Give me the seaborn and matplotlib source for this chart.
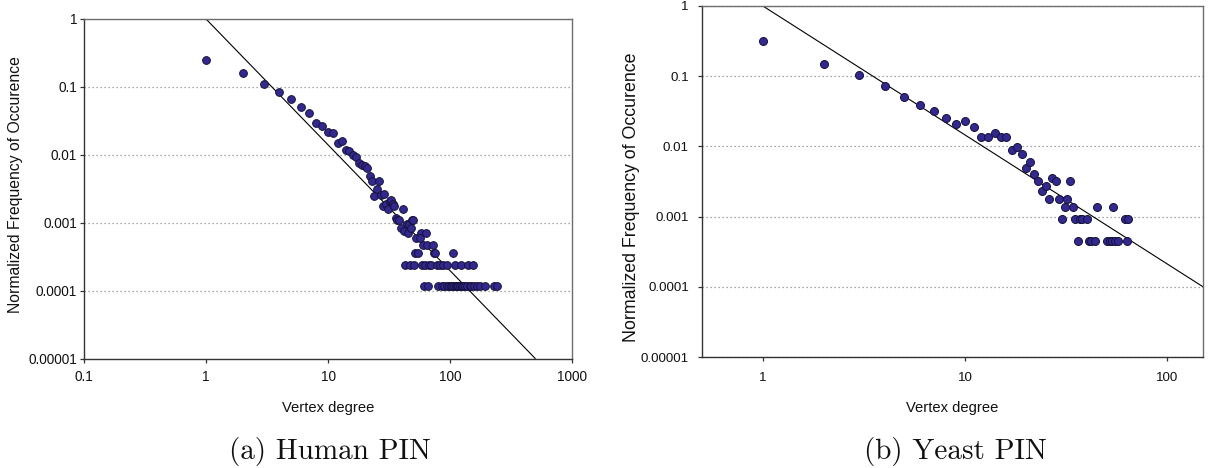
import numpy as np
import pandas as pd
import matplotlib
matplotlib.use("Agg")
import matplotlib.pyplot as plt
import seaborn as sns

# ---------------- data ----------------
human_degree = [1, 2, 3, 4, 5, 6, 7, 8, 9, 10, 11, 12, 13, 14, 15, 16, 17, 18, 19, 20,
                21, 22, 23, 24, 25, 26, 27, 28, 29, 30, 31, 32, 33, 34, 35, 36, 37, 38,
                40, 41, 42, 44, 45, 46, 48, 49, 50,
                58, 63, 53, 57, 60, 65, 72, 52, 55, 74, 76, 105,
                43, 47, 51, 59, 62, 67, 70, 78, 83, 88, 94, 110, 123, 141, 155,
                61, 66, 79, 86, 90, 95, 98, 101, 104, 107, 111, 114, 117, 120, 125,
                129, 133, 137, 145, 150, 158, 166, 176, 194, 231, 241]
human_freq = [0.25, 0.16, 0.11, 0.085, 0.066, 0.050, 0.041, 0.030, 0.027, 0.022, 0.021,
              0.015, 0.016, 0.012, 0.0116, 0.010, 0.0094, 0.0076, 0.0071, 0.0068,
              0.0064, 0.0049, 0.0041, 0.0025, 0.0032, 0.0042, 0.0026, 0.0018, 0.0027,
              0.0019, 0.0016, 0.0021, 0.0022, 0.0019, 0.0018, 0.0012, 0.0011, 0.0011,
              0.00084, 0.0016, 0.00075, 0.00096, 0.00072, 0.00096, 0.00084, 0.0011, 0.0011,
              0.000714, 0.000714, 0.000595, 0.000595, 0.000476, 0.000476, 0.000476,
              0.000357, 0.000357, 0.000357, 0.000357, 0.000357,
              0.000238, 0.000238, 0.000238, 0.000238, 0.000238, 0.000238, 0.000238,
              0.000238, 0.000238, 0.000238, 0.000238, 0.000238, 0.000238, 0.000238, 0.000238,
              0.000119, 0.000119, 0.000119, 0.000119, 0.000119, 0.000119, 0.000119,
              0.000119, 0.000119, 0.000119, 0.000119, 0.000119, 0.000119, 0.000119,
              0.000119, 0.000119, 0.000119, 0.000119, 0.000119, 0.000119, 0.000119,
              0.000119, 0.000119, 0.000119, 0.000119, 0.000119]

yeast_degree = [1, 2, 3, 4, 5, 6, 7, 8, 9, 10, 11, 12, 13, 14, 15, 16, 17, 18, 19, 20,
                21, 22, 23, 24, 25, 26, 27, 28, 29, 30, 31, 32, 33, 34, 35, 36, 37, 38,
                40, 41, 42, 44, 45, 50, 52, 53, 54, 55, 57, 62, 63, 64]
yeast_freq = [0.314, 0.148, 0.105, 0.073, 0.050, 0.039, 0.032, 0.025, 0.021, 0.023,
              0.019, 0.0135, 0.0135, 0.0154, 0.0135, 0.0135, 0.009, 0.0099, 0.0077,
              0.005, 0.0059, 0.004, 0.0032, 0.0023, 0.0027, 0.0018, 0.0036, 0.0032,
              0.0018, 0.00091, 0.00136, 0.0018, 0.0032, 0.00136, 0.00091, 0.00045,
              0.00091, 0.00091, 0.00091, 0.00045, 0.00045, 0.00045, 0.00136, 0.00045,
              0.00045, 0.00045, 0.00136, 0.00045, 0.00045, 0.00091, 0.00045, 0.00091]

# power-law fit lines: y = x^(-exponent), drawn across the x-range
human_fit_exponent = 1.85
human_fit_range = [1, 500]
yeast_fit_exponent = 1.838
yeast_fit_range = [1, 150]

y_ticks = [1, 0.1, 0.01, 0.001, 0.0001, 0.00001]
y_tick_labels = ["1", "0.1", "0.01", "0.001", "0.0001", "0.00001"]
human_x_ticks = [0.1, 1, 10, 100, 1000]
human_x_tick_labels = ["0.1", "1", "10", "100", "1000"]
yeast_x_ticks = [1, 10, 100]
yeast_x_tick_labels = ["1", "10", "100"]

x_label = "Vertex degree"
y_label = "Normalized Frequency of Occurence"
captions = ["(a) Human PIN", "(b) Yeast PIN"]

# ---------------- style ----------------
sns.set_style("ticks")
plt.rcParams["font.family"] = ["Liberation Sans", "DejaVu Sans"]

W, H = 1209, 468
fig = plt.figure(figsize=(W / 100, H / 100), dpi=100)

def px_axes(x0, y0, x1, y1):
    return fig.add_axes([x0 / W, 1 - y1 / H, (x1 - x0) / W, (y1 - y0) / H])

ax1 = px_axes(84, 19, 572, 359)
ax2 = px_axes(702, 6, 1203, 357)

marker_face = "#33288E"
marker_edge = "#15123A"

def draw(ax, deg, freq, expo, frange, xlim, xticks, xticklabels,
         tick_fs, ylab_fs, xlab_fs, ypad, xpad, ylab_xy, xlab_xy, msize):
    ax.set_xscale("log")
    ax.set_yscale("log")
    df = pd.DataFrame({"degree": deg, "freq": freq})
    fx = np.array(frange, dtype=float)
    fit = pd.DataFrame({"degree": fx, "freq": fx ** (-expo)})
    sns.lineplot(data=fit, x="degree", y="freq", ax=ax, color="black",
                 linewidth=0.8, zorder=2)
    sns.scatterplot(data=df, x="degree", y="freq", ax=ax, color=marker_face,
                    edgecolor=marker_edge, linewidth=0.7, s=msize, zorder=3)
    ax.set_xlim(*xlim)
    ax.set_ylim(1e-5, 1)
    ax.minorticks_off()
    ax.yaxis.set_major_locator(matplotlib.ticker.FixedLocator(y_ticks))
    ax.yaxis.set_major_formatter(matplotlib.ticker.FixedFormatter(y_tick_labels))
    ax.xaxis.set_major_locator(matplotlib.ticker.FixedLocator(xticks))
    ax.xaxis.set_major_formatter(matplotlib.ticker.FixedFormatter(xticklabels))
    ax.yaxis.grid(True, linestyle=(0, (1, 2.2)), color="#8a8a8a", linewidth=0.9)
    ax.xaxis.grid(False)
    ax.set_axisbelow(True)
    for s in ["left", "bottom"]:
        ax.spines[s].set_color("#333333")
        ax.spines[s].set_linewidth(1.0)
    for s in ["top", "right"]:
        ax.spines[s].set_visible(True)
        ax.spines[s].set_color("#6e6e6e")
        ax.spines[s].set_linewidth(1.0)
    ax.tick_params(axis="y", which="major", direction="out", length=3,
                   width=0.9, color="#333333", labelsize=tick_fs, pad=ypad,
                   labelcolor="#111111")
    ax.tick_params(axis="x", which="major", direction="out", length=3,
                   width=0.9, color="#333333", labelsize=tick_fs, pad=xpad,
                   labelcolor="#111111")
    ax.set_xlabel(x_label, fontsize=xlab_fs, color="#111111", va="center")
    ax.set_ylabel(y_label, fontsize=ylab_fs, color="#111111", va="center")
    ax.xaxis.set_label_coords(*xlab_xy)
    ax.yaxis.set_label_coords(*ylab_xy)

draw(ax1, human_degree, human_freq, human_fit_exponent, human_fit_range,
     (0.1, 1000), human_x_ticks, human_x_tick_labels,
     tick_fs=9.8, ylab_fs=11.3, xlab_fs=10.6, ypad=2.0, xpad=5.0,
     ylab_xy=(-0.141, 0.512), xlab_xy=(0.5, -0.144), msize=31)
draw(ax2, yeast_degree, yeast_freq, yeast_fit_exponent, yeast_fit_range,
     (0.5, 150), yeast_x_ticks, yeast_x_tick_labels,
     tick_fs=9.6, ylab_fs=12.8, xlab_fs=10.6, ypad=6.5, xpad=8.0,
     ylab_xy=(-0.14, 0.456), xlab_xy=(0.5, -0.145), msize=33)

fig.text(330 / W, 1 - 452 / H, captions[0], family="cmr10", fontsize=21,
         ha="center", va="center", color="#111111")
fig.text(955 / W, 1 - 452 / H, captions[1], family="cmr10", fontsize=21,
         ha="center", va="center", color="#111111")

fig.savefig("out.png", dpi=100, facecolor="white")
